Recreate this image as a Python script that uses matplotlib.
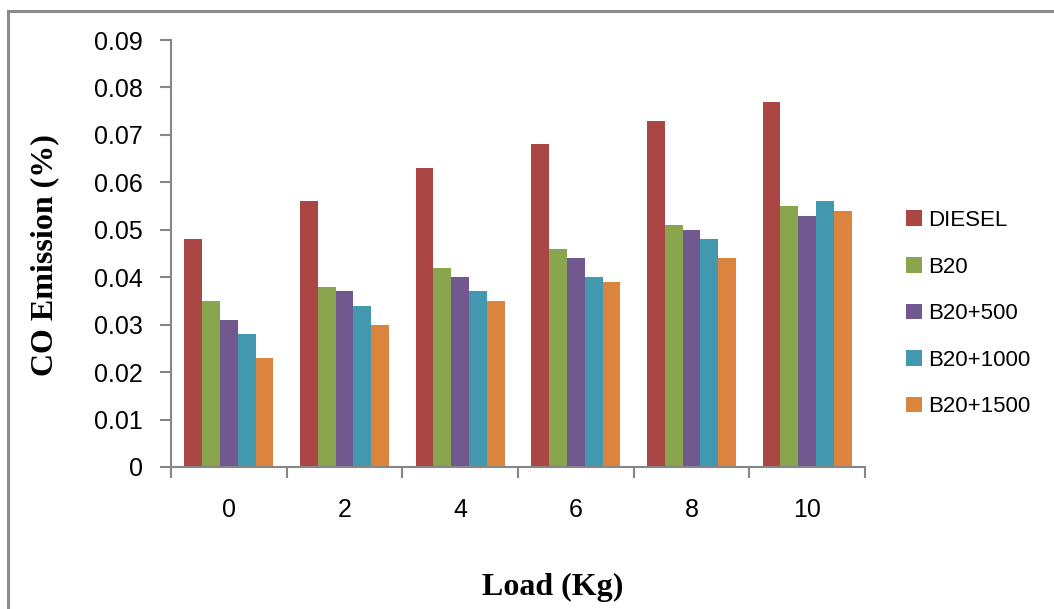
import matplotlib
matplotlib.use('Agg')
import matplotlib.pyplot as plt
import numpy as np
from matplotlib.patches import Rectangle

# data
loads = ['0', '2', '4', '6', '8', '10']
series = ['DIESEL', 'B20', 'B20+500', 'B20+1000', 'B20+1500']
diesel = [0.048, 0.056, 0.063, 0.068, 0.073, 0.077]
b20 = [0.035, 0.038, 0.042, 0.046, 0.051, 0.055]
b20_500 = [0.031, 0.037, 0.040, 0.044, 0.050, 0.053]
b20_1000 = [0.028, 0.034, 0.037, 0.040, 0.048, 0.056]
b20_1500 = [0.023, 0.030, 0.035, 0.039, 0.044, 0.054]
yticks = [0, 0.01, 0.02, 0.03, 0.04, 0.05, 0.06, 0.07, 0.08, 0.09]
ytick_labels = ['0', '0.01', '0.02', '0.03', '0.04', '0.05', '0.06', '0.07', '0.08', '0.09']

colors = ['#AA4643', '#89A54E', '#71588F', '#4198AF', '#DB843D']
values = [diesel, b20, b20_500, b20_1000, b20_1500]

W, H = 1054, 609
fig = plt.figure(figsize=(W / 100, H / 100), dpi=100)
ax = fig.add_axes([171 / W, 1 - 467 / H, (865 - 171) / W, (467 - 40) / H])

x = np.arange(len(loads))
bw = 0.154
for i, (name, vals) in enumerate(zip(series, values)):
    ax.bar(x + (i - 2) * bw, vals, bw, color=colors[i], label=name, zorder=2)

ax.set_xlim(-0.5, len(loads) - 0.5)
ax.set_ylim(0, 0.09)
ax.set_yticks(yticks)
ax.set_yticklabels(ytick_labels)
ax.set_xticks(x)
ax.set_xticklabels(loads)
ax.set_xticks(np.arange(-0.5, len(loads)), minor=True)

grey = '#868686'
for s in ['top', 'right']:
    ax.spines[s].set_visible(False)
for s in ['left', 'bottom']:
    ax.spines[s].set_color(grey)
    ax.spines[s].set_linewidth(1.5)

ax.tick_params(axis='y', length=8, width=1.5, color=grey, labelsize=18, pad=12,
               labelfontfamily='Liberation Sans')
ax.tick_params(axis='x', which='major', length=0, labelsize=18, pad=22,
               labelfontfamily='Liberation Sans')
ax.tick_params(axis='x', which='minor', length=8, width=1.5, color=grey)

fig.text(45 / W, 1 - 255 / H, 'CO Emission (%)', rotation=90, ha='center', va='center',
         fontsize=23, fontweight='bold', family='Liberation Serif')
fig.text(553 / W, 1 - 587 / H, 'Load (Kg)', ha='center', va='center',
         fontsize=23, fontweight='bold', family='Liberation Serif')

leg = ax.legend(loc='upper left', bbox_to_anchor=(886 / W, 1 - 190 / H),
                bbox_transform=fig.transFigure, frameon=False,
                prop={'family': 'Liberation Sans', 'size': 16},
                handlelength=0.7, handleheight=0.7, handletextpad=0.3, labelspacing=1.15)

# outer frame
fig.patches.append(Rectangle((8 / W, -0.1), 1.2, 1 - 11 / H + 0.1, transform=fig.transFigure,
                             fill=False, edgecolor='#8c8c8c', linewidth=2.2))

fig.savefig('out.png', dpi=100)
